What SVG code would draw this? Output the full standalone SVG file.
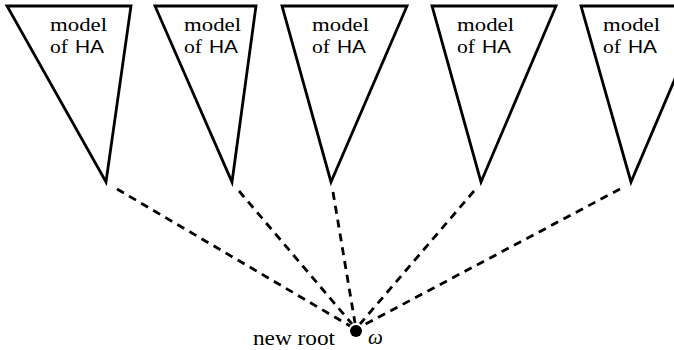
<svg xmlns="http://www.w3.org/2000/svg" width="674" height="350" viewBox="0 0 674 350">
<style>
.tri{fill:none;stroke:#000;stroke-width:2.8;stroke-linejoin:miter}
.dash{stroke:#000;stroke-width:2.8;stroke-dasharray:8 6;fill:none}
.serif{font-family:"Liberation Serif","DejaVu Serif",serif;font-size:19px;fill:#000}
.sans{font-family:"Liberation Sans","DejaVu Sans",sans-serif;font-size:19px}
.big{font-size:21px}
</style>
<rect width="674" height="350" fill="#fff"/>
<g id="connectors">
<line class="dash" x1="117" y1="189" x2="350" y2="326"/>
<line class="dash" x1="239" y1="191" x2="352" y2="324"/>
<line class="dash" x1="333" y1="192" x2="355" y2="323"/>
<line class="dash" x1="474" y1="191" x2="360" y2="324"/>
<line class="dash" x1="620" y1="189" x2="362" y2="326"/>
</g>
<g id="tree1">
<polygon class="tri" points="7,6 131,6 106,182"/>
<text class="serif"><tspan x="50" y="31" textLength="57" lengthAdjust="spacingAndGlyphs">model</tspan><tspan x="50" y="53" textLength="18" lengthAdjust="spacingAndGlyphs">of</tspan><tspan class="sans" x="75" y="53" textLength="29" lengthAdjust="spacingAndGlyphs">HA</tspan></text>
</g>
<g id="tree2">
<polygon class="tri" points="155,6 256,6 232,182"/>
<text class="serif"><tspan x="184" y="31" textLength="57" lengthAdjust="spacingAndGlyphs">model</tspan><tspan x="184" y="53" textLength="18" lengthAdjust="spacingAndGlyphs">of</tspan><tspan class="sans" x="209" y="53" textLength="29" lengthAdjust="spacingAndGlyphs">HA</tspan></text>
</g>
<g id="tree3">
<polygon class="tri" points="282,6 407,6 331,182"/>
<text class="serif"><tspan x="312" y="31" textLength="57" lengthAdjust="spacingAndGlyphs">model</tspan><tspan x="312" y="53" textLength="18" lengthAdjust="spacingAndGlyphs">of</tspan><tspan class="sans" x="337" y="53" textLength="29" lengthAdjust="spacingAndGlyphs">HA</tspan></text>
</g>
<g id="tree4">
<polygon class="tri" points="432,6 556,6 481,182"/>
<text class="serif"><tspan x="457" y="31" textLength="57" lengthAdjust="spacingAndGlyphs">model</tspan><tspan x="457" y="53" textLength="18" lengthAdjust="spacingAndGlyphs">of</tspan><tspan class="sans" x="482" y="53" textLength="29" lengthAdjust="spacingAndGlyphs">HA</tspan></text>
</g>
<g id="tree5">
<polygon class="tri" points="581,6 706,6 631,182"/>
<text class="serif"><tspan x="603" y="31" textLength="57" lengthAdjust="spacingAndGlyphs">model</tspan><tspan x="603" y="53" textLength="18" lengthAdjust="spacingAndGlyphs">of</tspan><tspan class="sans" x="628" y="53" textLength="29" lengthAdjust="spacingAndGlyphs">HA</tspan></text>
</g>
<g id="root">
<circle cx="356" cy="331" r="6" fill="#000"/>
<text class="serif big" x="253" y="345" textLength="82" lengthAdjust="spacingAndGlyphs">new root</text>
<text class="serif big" x="368" y="344" font-style="italic">ω</text>
</g>
</svg>
